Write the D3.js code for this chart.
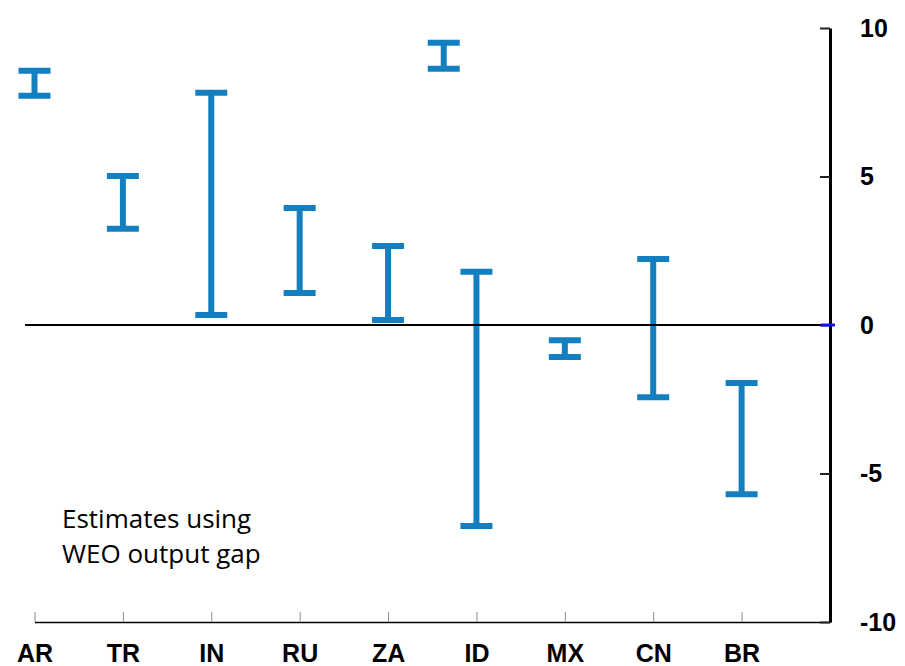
<!DOCTYPE html>
<html>
<head>
<meta charset="utf-8">
<script src="https://cdn.jsdelivr.net/npm/d3@7"></script>
<style>
  html, body { margin: 0; padding: 0; background: #fff; }
  svg { display: block; }
</style>
</head>
<body>
<svg id="chart" width="905" height="666"></svg>
<script>
// ---- data ----
const categories = ["AR", "TR", "IN", "RU", "ZA", "ID", "MX", "CN", "BR"];
const highValues = [8.56, 5.02, 7.82, 3.94, 2.66, 1.79, -0.51, 2.22, -1.95];
const lowValues  = [7.72, 3.24, 0.34, 1.08, 0.17, -6.77, -1.08, -2.43, -5.70];
// an additional range drawn between ZA and ID
const extraPositions = [4.63];
const extraHigh = [9.5];
const extraLow = [8.63];
const yTickValues = [10, 5, 0, -5, -10];
const noteLines = ["Estimates using", "WEO output gap"];

// ---- setup ----
const svg = d3.select("#chart");
const barColor = "#137fbf";
const capWidth = 32;
const strokeW = 6;

const x = d3.scaleLinear().domain([0, categories.length]).range([34.5, 830]);
const y = d3.scaleLinear().domain([-10, 10]).range([622, 28]);

const ranges = categories.map((c, i) => ({ pos: i, hi: highValues[i], lo: lowValues[i] }))
  .concat(extraPositions.map((p, i) => ({ pos: p, hi: extraHigh[i], lo: extraLow[i] })));

// ---- bottom category axis ----
const xAxis = d3.axisBottom(x)
  .tickValues(d3.range(categories.length))
  .tickFormat(i => categories[i])
  .tickSizeInner(-10)
  .tickSizeOuter(0)
  .tickPadding(22);
const gx = svg.append("g").attr("transform", `translate(0,${y(-10)})`).call(xAxis);
gx.select(".domain").attr("stroke", "#000").attr("stroke-width", 1.5);
gx.selectAll(".tick line").attr("stroke", "#8a8a8a").attr("stroke-width", 1);
gx.selectAll(".tick text")
  .attr("font-family", "'Liberation Sans', Arial, sans-serif")
  .attr("font-weight", "bold")
  .attr("font-size", 25)
  .attr("fill", "#000");

// ---- error-range bars ----
const gBars = svg.append("g");
ranges.forEach(d => {
  const cx = x(d.pos);
  gBars.append("line")
    .attr("x1", cx).attr("x2", cx)
    .attr("y1", y(d.hi)).attr("y2", y(d.lo))
    .attr("stroke", barColor).attr("stroke-width", strokeW);
  [d.hi, d.lo].forEach(v => {
    gBars.append("line")
      .attr("x1", cx - capWidth / 2).attr("x2", cx + capWidth / 2)
      .attr("y1", y(v)).attr("y2", y(v))
      .attr("stroke", barColor).attr("stroke-width", strokeW);
  });
});

// ---- zero line ----
svg.append("line")
  .attr("x1", 25).attr("x2", x(categories.length))
  .attr("y1", y(0)).attr("y2", y(0))
  .attr("stroke", "#000").attr("stroke-width", 2);

// ---- right value axis ----
const yAxis = d3.axisRight(y)
  .tickValues(yTickValues)
  .tickFormat(d => String(d))
  .tickSizeInner(-10)
  .tickSizeOuter(0)
  .tickPadding(30);
const gy = svg.append("g").attr("transform", `translate(${x(categories.length)},0)`).call(yAxis);
gy.select(".domain").attr("stroke", "#000").attr("stroke-width", 3);
gy.selectAll(".tick line").attr("stroke", "#222").attr("stroke-width", 2);
gy.selectAll(".tick text")
  .attr("font-family", "'Liberation Sans', Arial, sans-serif")
  .attr("font-weight", "bold")
  .attr("font-size", 25)
  .attr("fill", "#000");

// small blue marker at zero on the axis
svg.append("line")
  .attr("x1", x(categories.length) - 9).attr("x2", x(categories.length) + 5)
  .attr("y1", y(0)).attr("y2", y(0))
  .attr("stroke", "#1010ff").attr("stroke-width", 3);

// ---- note ----
const note = svg.append("text")
  .attr("font-family", "'Open Sans', 'Liberation Sans', Arial, sans-serif")
  .attr("font-size", 26)
  .attr("fill", "#000");
noteLines.forEach((t, i) => {
  note.append("tspan").attr("x", 62).attr("y", 528 + i * 35).text(t);
});
</script>
</body>
</html>
